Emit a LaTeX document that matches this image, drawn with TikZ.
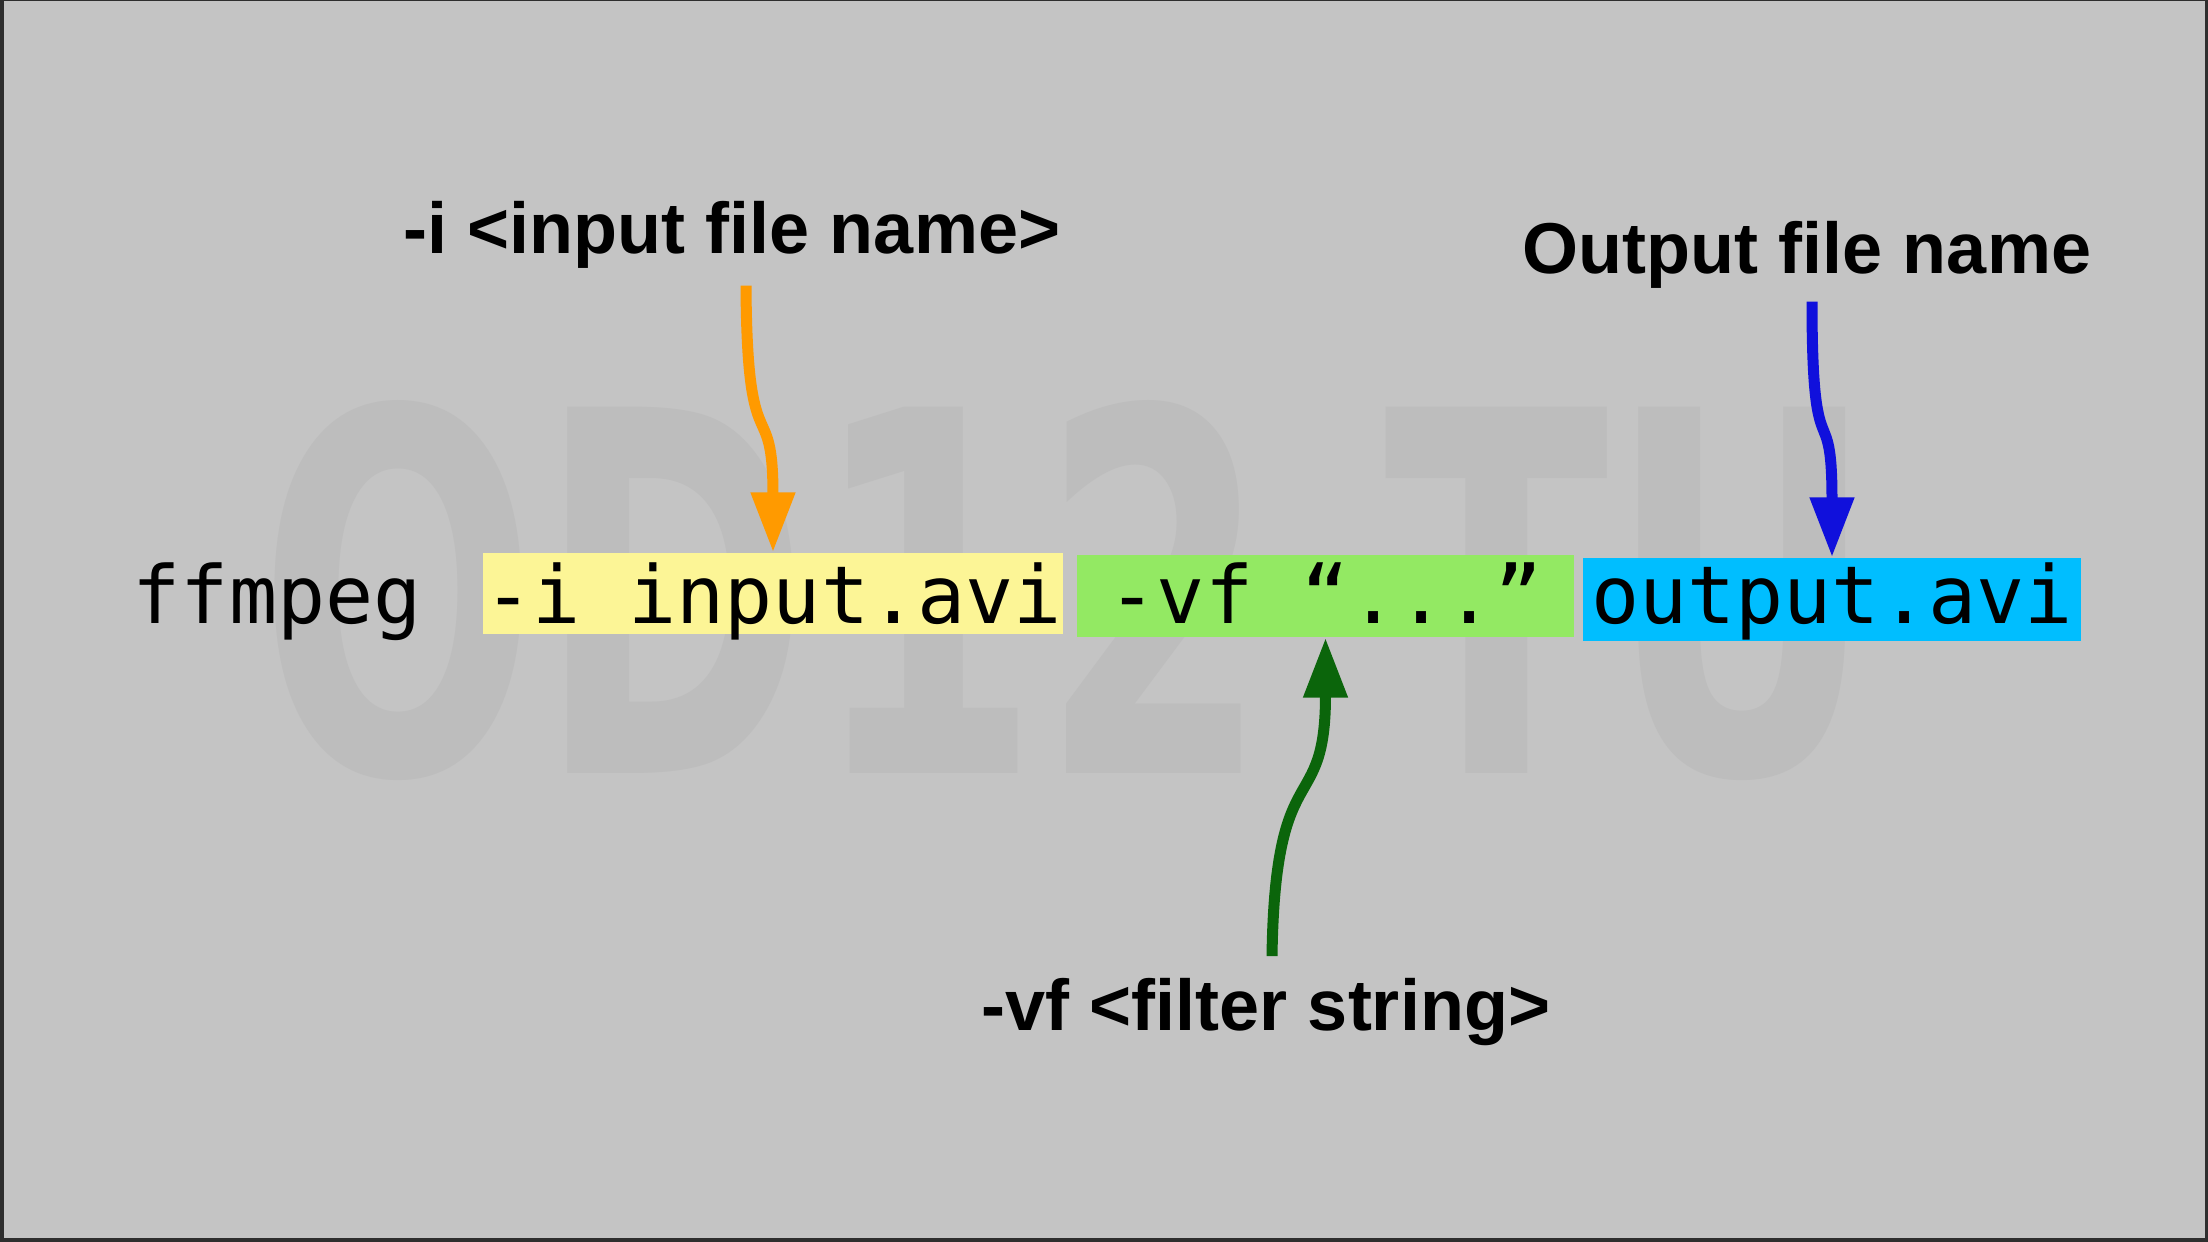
\documentclass[tikz,border=0pt]{standalone}
\usepackage{fontspec}
\setmainfont{Liberation Sans}
\setmonofont{DejaVu Sans Mono}
\newfontfamily\wmfont{DejaVu Sans}
\usetikzlibrary{arrows.meta}
\definecolor{bg}{HTML}{C4C4C4}
\definecolor{framecol}{HTML}{2E2E2E}
\definecolor{wm}{HTML}{BDBDBD}
\definecolor{hlyellow}{HTML}{FCF596}
\definecolor{hlgreen}{HTML}{93E963}
\definecolor{hlblue}{HTML}{00BEFF}
\definecolor{arrorange}{HTML}{FF9A00}
\definecolor{arrblue}{HTML}{1010DC}
\definecolor{arrgreen}{HTML}{0B650B}
\tikzset{
  code/.style={font=\ttfamily\fontsize{22.76pt}{26pt}\selectfont, inner sep=0pt, text=black},
  hlbox/.style={code, anchor=base},
  lbl/.style={font=\fontsize{20.49pt}{24pt}\selectfont\bfseries, inner sep=0pt, text=black, anchor=base},
  pointer/.style={line width=0.11cm, -{Triangle[length=0.6cm,width=0.42cm]}},
}
\begin{document}
\begin{tikzpicture}
\useasboundingbox (0,0) rectangle (22.08,-12.42);
\fill[framecol] (0,0) rectangle (22.08,-12.42);
\fill[bg] (0.04,-0.01) rectangle (22.05,-12.38);
% faint watermark
\node[font=\wmfont\bfseries\fontsize{143pt}{143pt}\selectfont, text=wm, inner sep=0pt, anchor=base] (wmark) at (10.67,-7.74) {\scalebox{0.655}[1]{OD12 TU}};
% command line
\node[code, anchor=base west] (cmd) at (1.32,-6.24) {ffmpeg};
\node[hlbox, fill=hlyellow, minimum width=5.80cm, text height=0.71cm, text depth=0.10cm] (inbox) at (7.73,-6.24) {-i input.avi};
\node[hlbox, fill=hlgreen, minimum width=4.97cm, text height=0.69cm, text depth=0.13cm] (vfbox) at (13.255,-6.24) {-vf “...”};
\node[hlbox, fill=hlblue, minimum width=4.98cm, text height=0.66cm, text depth=0.17cm] (outbox) at (18.32,-6.24) {output.avi};
% labels
\node[lbl] (lin) at (7.32,-2.54) {-i <input file name>};
\node[lbl] (lout) at (18.07,-2.74) {Output file name};
\node[lbl] (lvf) at (12.66,-10.30) {-vf <filter string>};
% pointers
\draw[pointer, arrorange] ([shift={(0.14,-0.16)}]lin.south) .. controls (7.47,-4.70) and (7.73,-3.90) .. (inbox.north);
\draw[pointer, arrblue] ([shift={(0.05,-0.12)}]lout.south) .. controls (18.12,-4.80) and (18.32,-3.90) .. (outbox.north);
\draw[pointer, arrgreen] ([shift={(0.06,0.21)}]lvf.north) .. controls (12.75,-7.50) and (13.255,-8.20) .. (vfbox.south);
\end{tikzpicture}
\end{document}
